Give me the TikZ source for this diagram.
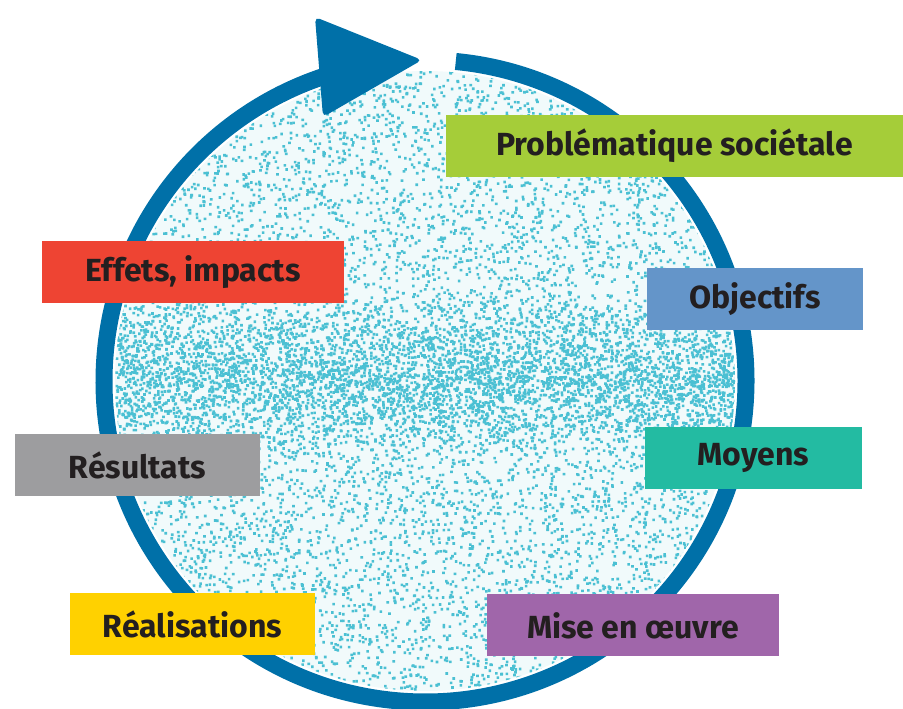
\documentclass[tikz,border=0pt]{standalone}
\usepackage{fontspec}
\setmainfont{Fira Sans}
\usepackage{xcolor}
\usepackage{tikz}

\definecolor{anneau}{HTML}{0070A8}
\definecolor{trame}{HTML}{4BC0D3}
\definecolor{texte}{HTML}{231F20}
\definecolor{vert}{HTML}{A5CD39}
\definecolor{bleu}{HTML}{6495C9}
\definecolor{turquoise}{HTML}{23BBA2}
\definecolor{violet}{HTML}{A066AA}
\definecolor{jaune}{HTML}{FFD100}
\definecolor{gris}{HTML}{9D9D9F}
\definecolor{rouge}{HTML}{EE4433}

\begin{document}
\begin{tikzpicture}[x=1pt, y=1pt,
        etiquette/.style={rectangle, inner sep=0pt, text=texte, minimum height=62pt,
            font=\fontsize{32}{38}\selectfont\bfseries}]
        \useasboundingbox (0,0) rectangle (903,709);
        % trame
        \begin{scope}
            \clip (425,328) circle[radius=310];
            \fill[trame!8] (425,328) circle[radius=310];
            \pgfmathsetseed{42}
            \foreach \j in {1,...,45}
                \fill[trame] foreach \i in {1,...,200} {({425+310*rand},{328+310*rand}) rectangle ++(2.6,2.6)};
            \foreach \j in {1,...,20}
                \fill[trame] foreach \i in {1,...,200} {({425+310*rand},{330+40*(rand+rand)}) rectangle ++(2.6,2.6)};
        \end{scope}
        % anneau et fleche
        \draw[anneau, line width=17pt] (425,328) ++(84.5:321) arc[start angle=84.5, end angle=-251.4, radius=321];
        \fill[anneau, rounded corners=5pt] (315,692) -- (422,649) -- (323,592) -- cycle;
        % etiquettes
        \node[etiquette, fill=vert, minimum width=457pt] (probleme) at (674.5,563) {Problématique sociétale};
        \node[etiquette, fill=bleu, minimum width=216pt] (objectifs) at (755,410) {Objectifs};
        \node[etiquette, fill=turquoise, minimum width=217pt] (moyens) at (753.5,251) {Moyens};
        \node[etiquette, fill=violet, minimum width=292pt] (oeuvre) at (633,83.5) {Mise en œuvre};
        \node[etiquette, fill=jaune, minimum width=245pt] (realisations) at (192.5,84.5) {Réalisations};
        \node[etiquette, fill=gris, minimum width=245pt] (resultats) at (137.5,243.5) {Résultats};
        \node[etiquette, fill=rouge, minimum width=302pt] (effets) at (193,437) {Effets, impacts};
    \end{tikzpicture}
\end{document}
